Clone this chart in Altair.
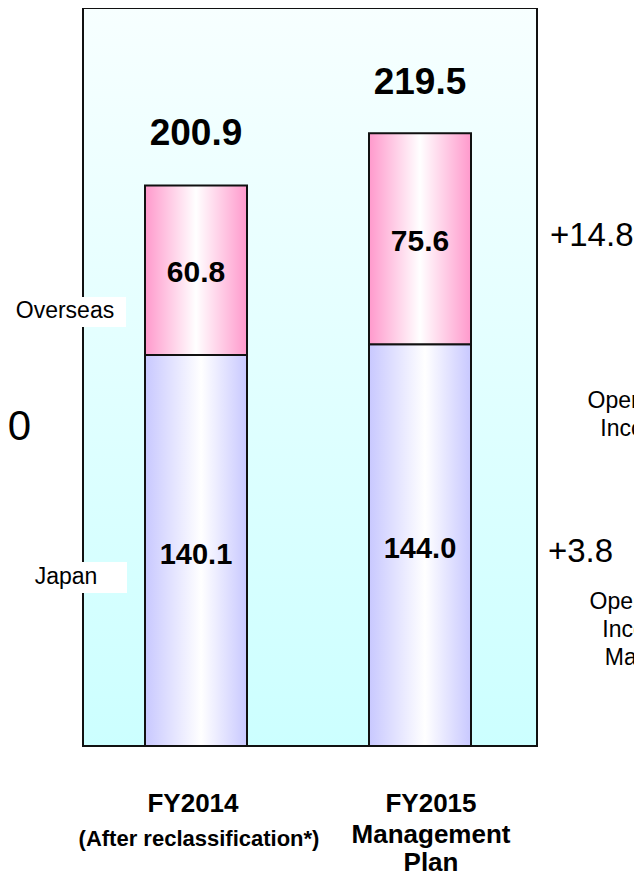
import altair as alt
import pandas as pd

# ---- data ----
categories = ["FY2014", "FY2015"]
japan = [140.1, 144.0]
overseas = [60.8, 75.6]
totals = [200.9, 219.5]
label_line1 = ["FY2014", "FY2015"]
label_line2 = [["(After reclassification*)"], ["Management", "Plan"]]
segment_names = ["Overseas", "Japan"]
change_values = ["+14.8", "+3.8"]
change_names = [["Operating", "Income"], ["Operating", "Income", "Margin"]]
left_fragment = "0"

df = pd.DataFrame({
    "cat": categories,
    "japan": japan,
    "overseas": overseas,
    "total": totals,
})

W, H = 454, 738
FONT = "Liberation Sans"

xscale = alt.Scale(domain=categories, range=[1, 449], paddingInner=0, paddingOuter=0)
yscale = alt.Scale(domain=[0, 264.5], nice=False, zero=True)
X = alt.X("cat:N", scale=xscale, axis=None)

bg_grad = alt.LinearGradient(
    gradient="linear", x1=0, x2=0, y1=0, y2=1,
    stops=[alt.GradientStop(offset=0, color="#f7ffff"),
           alt.GradientStop(offset=1, color="#ccffff")])
pink_grad = alt.LinearGradient(
    gradient="linear", x1=0, x2=1, y1=0, y2=0,
    stops=[alt.GradientStop(offset=0, color="#ff99cc"),
           alt.GradientStop(offset=0.5, color="#ffffff"),
           alt.GradientStop(offset=1, color="#ff99cc")])
blue_grad = alt.LinearGradient(
    gradient="linear", x1=0, x2=1, y1=0, y2=0,
    stops=[alt.GradientStop(offset=0, color="#c8c8ff"),
           alt.GradientStop(offset=0.55, color="#ffffff"),
           alt.GradientStop(offset=1, color="#c8c8ff")])

one = pd.DataFrame({"k": [0]})

background = alt.Chart(one).mark_rect(fill=bg_grad, stroke="#111111", strokeWidth=2).encode(
    x=alt.value(0), x2=alt.value("width"), y=alt.value(0), y2=alt.value("height"))

base = alt.Chart(df).transform_calculate(
    top="datum.japan + datum.overseas",
    jmid="datum.japan / 2",
    omid="datum.japan + datum.overseas / 2",
)

bar_j = base.mark_bar(size=102, fill=blue_grad, stroke="#111111", strokeWidth=2).encode(
    x=X, y=alt.Y("japan:Q", scale=yscale, axis=None))
bar_o = base.mark_bar(size=102, fill=pink_grad, stroke="#111111", strokeWidth=2).encode(
    x=X, y=alt.Y("japan:Q", scale=yscale, axis=None), y2="top:Q")

lbl_j = base.mark_text(font=FONT, fontSize=29, fontWeight="bold", color="black", baseline="middle", dy=4).encode(
    x=X, y=alt.Y("jmid:Q", scale=yscale), text=alt.Text("japan:Q", format=".1f"))
lbl_o = base.mark_text(font=FONT, fontSize=30, fontWeight="bold", color="black", baseline="middle", dy=3).encode(
    x=X, y=alt.Y("omid:Q", scale=yscale), text=alt.Text("overseas:Q", format=".1f"))
lbl_t = base.mark_text(font=FONT, fontSize=37, fontWeight="bold", color="black", baseline="middle", dy=-51).encode(
    x=X, y=alt.Y("total:Q", scale=yscale), text=alt.Text("total:Q", format=".1f"))

# category labels below the frame
def cat_text(i, text, y, size, dx, lh=None):
    kw = dict(font=FONT, fontSize=size, fontWeight="bold", color="black", baseline="middle", dx=dx)
    if lh is not None:
        kw["lineHeight"] = lh
    return alt.Chart(pd.DataFrame({"cat": [categories[i]]})).mark_text(**kw).encode(
        x=X, y=alt.value(y), text=alt.value(text))

cats = [
    cat_text(0, label_line1[0], 796, 26, -3),
    cat_text(1, label_line1[1], 796, 26, 11),
    cat_text(0, label_line2[0], 831, 22, 3),
    cat_text(1, label_line2[1], 827, 26, 11, lh=28),
]

# side annotations (outside the frame)
def box(x0, x1, y0, y1):
    return alt.Chart(one).mark_rect(fill="white").encode(
        x=alt.value(x0), x2=alt.value(x1), y=alt.value(y0), y2=alt.value(y1))

def txt(x, y, text, size, weight="normal", align="center", lh=None):
    kw = dict(font=FONT, fontSize=size, fontWeight=weight, color="black", align=align, baseline="middle")
    if lh is not None:
        kw["lineHeight"] = lh
    return alt.Chart(one).mark_text(**kw).encode(x=alt.value(x), y=alt.value(y), text=alt.value(text))

annotations = [
    box(-71, 43, 289, 319),
    txt(-18, 303, segment_names[0], 23),
    box(-51, 44, 554, 585),
    txt(-17, 569, segment_names[1], 23),
    txt(-52, 419, left_fragment, 42, align="right"),
    txt(467, 228, change_values[0], 33, align="left"),
    txt(465, 544, change_values[1], 33, align="left"),
    txt(555, 393, change_names[0], 23, lh=28),
    txt(557, 594, change_names[1], 23, lh=28),
]

chart = alt.layer(
    background, bar_j, bar_o, lbl_j, lbl_o, lbl_t, *cats, *annotations
).properties(
    width=W, height=H,
    padding={"left": 75, "top": 0, "right": 97, "bottom": 134},
    autosize=alt.AutoSizeParams(type="none"),
).configure_view(stroke=None)

chart.save("out.html", embed_options={"renderer": "svg", "actions": False})
